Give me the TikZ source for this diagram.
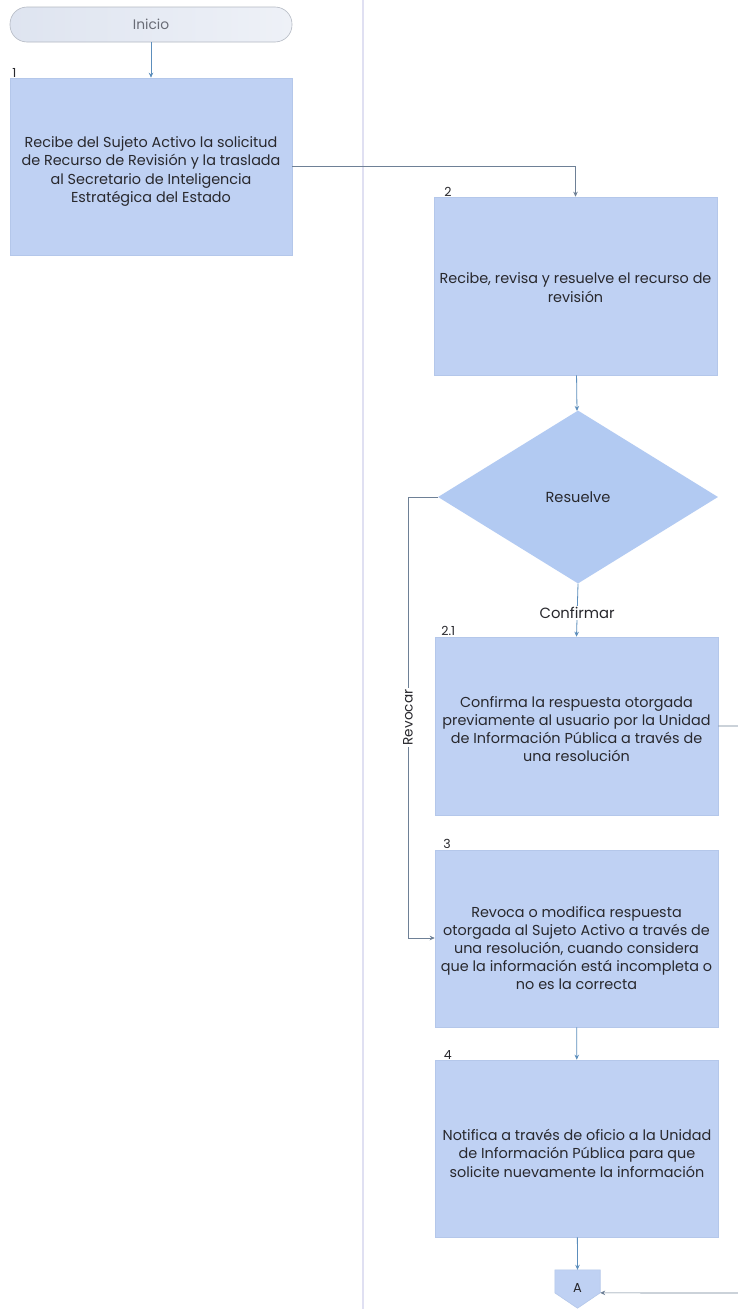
\documentclass[tikz,border=0pt]{standalone}
\usepackage{fontspec}
\setmainfont{Poppins}
\usetikzlibrary{arrows.meta,shapes.geometric,calc}

\definecolor{boxfill}{RGB}{191,209,243}
\definecolor{boxedge}{RGB}{180,199,234}
\definecolor{dmdfill}{RGB}{178,202,242}
\definecolor{conn}{RGB}{92,142,188}
\definecolor{connGray}{RGB}{110,128,150}
\definecolor{lane}{RGB}{224,224,242}
\definecolor{txt}{RGB}{40,40,45}
\definecolor{termleft}{RGB}{222,228,240}
\definecolor{termright}{RGB}{238,241,247}
\definecolor{termedge}{RGB}{180,185,195}

% extra room above the first line of a box text
\newcommand{\topgap}[1]{\rule{0pt}{#1}}

\tikzset{
  stepbox/.style={rectangle, fill=boxfill, draw=boxedge, line width=0.6pt,
    minimum width=283pt, minimum height=178pt, align=center,
    font=\fontsize{14.4}{18.2}\selectfont, text=txt, inner sep=0pt},
  decision/.style={diamond, fill=dmdfill, draw=none, aspect=1.62,
    minimum width=280pt, minimum height=173pt, inner sep=0pt,
    font=\fontsize{14.6}{16}\selectfont, text=txt},
  terminal/.style={rectangle, rounded corners=17pt, left color=termleft, right color=termright,
    draw=termedge, line width=0.6pt, minimum width=282pt, minimum height=35pt,
    font=\fontsize{13.8}{15}\selectfont, text={rgb,255:red,105;green,108;blue,118}},
  numlbl/.style={font=\fontsize{12.5}{14}\selectfont, text=txt, inner sep=0.5pt},
  flow/.style={draw=conn, line width=0.8pt, -{Stealth[length=5pt,width=4.5pt]}},
  flowgray/.style={draw=connGray, line width=0.7pt, -{Stealth[length=5pt,width=4.5pt]}},
  branch/.style={font=\fontsize{14.8}{16}\selectfont, text=txt, fill=white, inner sep=1.5pt},
}

\begin{document}
\begin{tikzpicture}[x=1pt,y=-1pt]
\useasboundingbox (0,0) rectangle (737,1309);
\fill[white] (0,0) rectangle (737,1309);

% swimlane divider
\draw[lane, line width=2pt] (363,0) -- (363,1309);

% shapes
\node[terminal] (start) at (151,24.5) {Inicio};

\node[stepbox, minimum width=282pt, minimum height=177pt] (s1) at (151,166.5)
  {\topgap{21pt}Recibe del Sujeto Activo la solicitud\\de Recurso de Revisión y la traslada\\al Secretario de Inteligencia\\Estratégica del Estado};

\node[stepbox] (s2) at (575.5,286)
  {\topgap{14pt}Recibe, revisa y resuelve el recurso de\\revisión};

\node[decision] (d1) at (578,497) {Resuelve};

\node[stepbox] (s21) at (576.5,726)
  {\topgap{17pt}Confirma la respuesta otorgada\\previamente al usuario por la Unidad\\de Información Pública a través de\\una resolución};

\node[stepbox, minimum height=177pt] (s3) at (576.5,938.5)
  {\topgap{30pt}Revoca o modifica respuesta\\otorgada al Sujeto Activo a través de\\una resolución, cuando considera\\que la información está incompleta o\\no es la correcta};

\node[stepbox, minimum height=177pt] (s4) at (577,1148.5)
  {\topgap{21pt}Notifica a través de oficio a la Unidad\\de Información Pública para que\\solicite nuevamente la información};

% off-page connector
\node[minimum width=45pt, minimum height=38pt, inner sep=0pt] (pA) at (577.5,1289) {};
\coordinate (pAr) at ($(pA.north east)!0.6!(pA.south east)$);
\coordinate (pAl) at ($(pA.north west)!0.6!(pA.south west)$);
\fill[boxfill] (pA.north west) -- (pA.north east) -- (pAr) -- (pA.south) -- (pAl) -- cycle;
\draw[boxedge, line width=0.6pt] (pA.north west) -- (pA.north east) -- (pAr) -- (pA.south) -- (pAl) -- cycle;
\node[font=\fontsize{13}{14}\selectfont, text=txt] (pAtxt) at (577.5,1288) {A};

% step numbers
\node[numlbl, anchor=south west] (n1) at ([xshift=2pt]s1.north west) {1};
\node[numlbl, anchor=south west] (n2) at ([xshift=10pt]s2.north west) {2};
\node[numlbl, anchor=south west] (n21) at ([xshift=6pt]s21.north west) {2.1};
\node[numlbl, anchor=south west] (n3) at ([xshift=8pt]s3.north west) {3};
\node[numlbl, anchor=south west] (n4) at ([xshift=8pt]s4.north west) {4};

% connectors
\draw[flow] (start) -- (s1);
\draw[flowgray] (s1.east) -| (s2.north);
\draw[flow] (s2) -- (d1);
\draw[flow] (d1.south) -- node[branch, pos=0.55] (lconf) {Confirmar} (s21.north);
\coordinate (rv1) at (408,497);
\coordinate (rv2) at (408,938);
\draw[flowgray] (d1.west) -- (rv1) -- node[branch, rotate=90, pos=0.5, font=\fontsize{13.6}{15}\selectfont] (lrev) {Revocar} (rv2) -- (s3.west |- rv2);
\draw[flow] (s3) -- (s4);
\draw[flow] (s4) -- (pA.north);
\coordinate (out1) at (748,726);
\coordinate (out2) at (748,1293);
\draw[flowgray] (s21.east |- out1) -- (out1) -- (out2) -- (pAr);
\end{tikzpicture}
\end{document}
